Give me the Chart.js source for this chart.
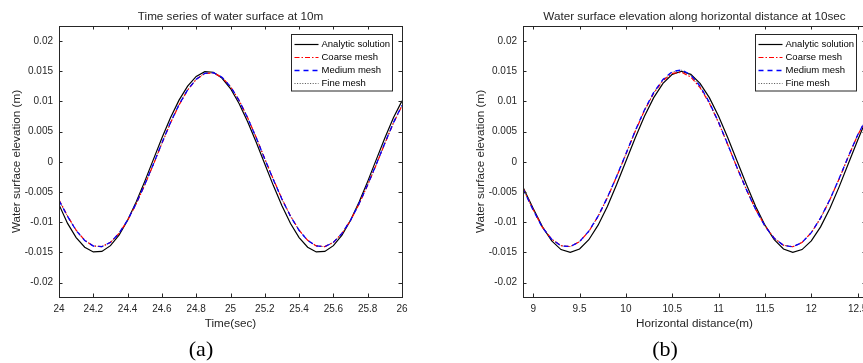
<!DOCTYPE html>
<html><head><meta charset="utf-8">
<script src="https://cdn.jsdelivr.net/npm/chart.js@4"></script>
<style>
html,body{margin:0;padding:0;background:#fff;overflow:hidden;width:863px;height:363px}
#wa{position:absolute;left:0;top:0;width:444px;height:363px}
#wb{position:absolute;left:464px;top:0;width:444px;height:363px}
</style></head><body>
<div id="wa"><canvas id="ca" width="444" height="363"></canvas></div>
<div id="wb"><canvas id="cb" width="444" height="363"></canvas></div>
<script>
// ---------- DATA ----------
const SERIES_LABELS = ['Analytic solution', 'Coarse mesh', 'Medium mesh', 'Fine mesh'];

const Y_TICKS = [-0.02, -0.015, -0.01, -0.005, 0, 0.005, 0.01, 0.015, 0.02];
const Y_TICK_LABELS = ['-0.02', '-0.015', '-0.01', '-0.005', '0', '0.005', '0.01', '0.015', '0.02'];

// (a) time series at 10 m
const TIME_A = [24.00, 24.05, 24.10, 24.15, 24.20, 24.25, 24.30, 24.35, 24.40, 24.45,
  24.50, 24.55, 24.60, 24.65, 24.70, 24.75, 24.80, 24.85, 24.90, 24.95,
  25.00, 25.05, 25.10, 25.15, 25.20, 25.25, 25.30, 25.35, 25.40, 25.45,
  25.50, 25.55, 25.60, 25.65, 25.70, 25.75, 25.80, 25.85, 25.90, 25.95, 26.00];
const ANALYTIC_A = [-0.0071, -0.0102, -0.01255, -0.01415, -0.01493, -0.01484, -0.01389, -0.01214, -0.00967, -0.00665,
  -0.00324, 0.00036, 0.00394, 0.00729, 0.01022, 0.01255, 0.01415, 0.01493, 0.01484, 0.01389,
  0.01214, 0.00967, 0.00665, 0.00324, -0.00036, -0.00394, -0.00729, -0.01022, -0.01255, -0.01415,
  -0.01493, -0.01484, -0.01389, -0.01214, -0.00967, -0.00665, -0.00324, 0.00036, 0.00394, 0.00729, 0.0101];
const COARSE_A = [-0.0063, -0.00899, -0.01133, -0.01301, -0.01393, -0.01405, -0.01335, -0.01187, -0.00971, -0.00697,
  -0.00383, -0.00048, 0.00305, 0.00643, 0.00943, 0.01189, 0.01365, 0.01462, 0.01474, 0.01401,
  0.01246, 0.01019, 0.00732, 0.00402, 0.00050, -0.00291, -0.00613, -0.00899, -0.01133, -0.01301,
  -0.01393, -0.01405, -0.01335, -0.01187, -0.00971, -0.00697, -0.00383, -0.00048, 0.00305, 0.00643, 0.00930];
const MEDIUM_A = [-0.0064, -0.00905, -0.01138, -0.01304, -0.01395, -0.01406, -0.01334, -0.01184, -0.00966, -0.00690,
  -0.00376, -0.00040, 0.00312, 0.00650, 0.00949, 0.01193, 0.01368, 0.01465, 0.01477, 0.01403,
  0.01246, 0.01017, 0.00728, 0.00397, 0.00044, -0.00297, -0.00619, -0.00904, -0.01137, -0.01303,
  -0.01394, -0.01406, -0.01334, -0.01185, -0.00968, -0.00692, -0.00377, -0.00041, 0.00311, 0.00649, 0.00935];
const FINE_A = [-0.0064, -0.00904, -0.01137, -0.01304, -0.01395, -0.01407, -0.01335, -0.01185, -0.00967, -0.00691,
  -0.00377, -0.00041, 0.00311, 0.00649, 0.00948, 0.01192, 0.01367, 0.01465, 0.01477, 0.01403,
  0.01247, 0.01018, 0.00729, 0.00398, 0.00045, -0.00296, -0.00618, -0.00903, -0.01137, -0.01303,
  -0.01395, -0.01406, -0.01335, -0.01186, -0.00969, -0.00693, -0.00378, -0.00042, 0.00310, 0.00648, 0.00934];
const X_TICKS_A = [24, 24.2, 24.4, 24.6, 24.8, 25, 25.2, 25.4, 25.6, 25.8, 26];
const X_TICK_LABELS_A = ['24', '24.2', '24.4', '24.6', '24.8', '25', '25.2', '25.4', '25.6', '25.8', '26'];

// (b) spatial profile at 10 s
const DIST_B = [8.89, 9.0, 9.1, 9.2, 9.3, 9.4, 9.5, 9.6, 9.7, 9.8, 9.9,
  10.0, 10.1, 10.2, 10.3, 10.4, 10.5, 10.6, 10.7, 10.8, 10.9,
  11.0, 11.1, 11.2, 11.3, 11.4, 11.5, 11.6, 11.7, 11.8, 11.9,
  12.0, 12.1, 12.2, 12.3, 12.4, 12.5, 12.59];
const ANALYTIC_B = [-0.0042, -0.00773, -0.01078, -0.01310, -0.01454, -0.01500, -0.01444, -0.01291, -0.01050, -0.00739, -0.00377,
  0.00010, 0.00396, 0.00756, 0.01064, 0.01300, 0.01449, 0.01500, 0.01449, 0.01300, 0.01064,
  0.00756, 0.00396, 0.00010, -0.00377, -0.00739, -0.01050, -0.01291, -0.01444, -0.01500, -0.01454,
  -0.01310, -0.01078, -0.00773, -0.00415, -0.00029, 0.00358, 0.00690];
const COARSE_B = [-0.0044, -0.0079, -0.01087, -0.01282, -0.01390, -0.01404, -0.01324, -0.01154, -0.00905, -0.00596, -0.00247,
  0.00125, 0.00504, 0.00849, 0.01136, 0.01346, 0.01465, 0.01485, 0.01405, 0.01230, 0.00972,
  0.00648, 0.00280, -0.00101, -0.00460, -0.00788, -0.01062, -0.01266, -0.01383, -0.01407, -0.01336,
  -0.01174, -0.00933, -0.00630, -0.00283, 0.00087, 0.00440, 0.00700];
const MEDIUM_B = [-0.0045, -0.0080, -0.01090, -0.01285, -0.01392, -0.01405, -0.01322, -0.01150, -0.00900, -0.00590, -0.00240,
  0.00132, 0.00512, 0.00860, 0.01150, 0.01365, 0.01495, 0.01525, 0.01440, 0.01255, 0.00985,
  0.00655, 0.00283, -0.00100, -0.00461, -0.00790, -0.01064, -0.01268, -0.01385, -0.01409, -0.01337,
  -0.01173, -0.00930, -0.00626, -0.00278, 0.00092, 0.00445, 0.00705];
const FINE_B = [-0.0045, -0.0080, -0.01089, -0.01284, -0.01391, -0.01405, -0.01323, -0.01151, -0.00902, -0.00592, -0.00242,
  0.00130, 0.00510, 0.00857, 0.01146, 0.01360, 0.01490, 0.01518, 0.01434, 0.01250, 0.00981,
  0.00652, 0.00282, -0.00101, -0.00461, -0.00789, -0.01063, -0.01267, -0.01384, -0.01408, -0.01336,
  -0.01173, -0.00931, -0.00628, -0.00280, 0.00090, 0.00443, 0.00703];
const X_TICKS_B = [9, 9.5, 10, 10.5, 11, 11.5, 12, 12.5];
const X_TICK_LABELS_B = ['9', '9.5', '10', '10.5', '11', '11.5', '12', '12.5'];

// ---------- STYLE ----------
const SANS = "'Liberation Sans', Arial, Helvetica, sans-serif";
const AX = '#262626';
const STYLES = [
  { color: 'rgb(0,0,0)', dash: [], width: 1.2, order: 4 },
  { color: 'rgb(255,0,0)', dash: [5, 2, 1.5, 2], width: 1.2, order: 2 },
  { color: 'rgb(0,0,255)', dash: [5, 4], width: 1.3, order: 1 },
  { color: 'rgb(80,80,80)', dash: [1, 1.6], width: 1, order: 3 }
];

const boxPlugin = {
  id: 'matlabBox',
  afterDraw(chart) {
    const { ctx, chartArea: a, scales } = chart;
    ctx.save();
    ctx.strokeStyle = AX;
    ctx.lineWidth = 1;
    ctx.setLineDash([]);
    const L = 3.5;
    ctx.beginPath();
    scales.x.ticks.forEach(t => {
      const p = Math.round(scales.x.getPixelForValue(t.value)) + 0.5;
      ctx.moveTo(p, a.bottom); ctx.lineTo(p, a.bottom - L);
      ctx.moveTo(p, a.top); ctx.lineTo(p, a.top + L);
    });
    scales.y.ticks.forEach(t => {
      const p = Math.round(scales.y.getPixelForValue(t.value)) + 0.5;
      ctx.moveTo(a.left, p); ctx.lineTo(a.left + L, p);
      ctx.moveTo(a.right, p); ctx.lineTo(a.right - L, p);
    });
    ctx.stroke();
    ctx.strokeRect(Math.round(a.left) + 0.5, Math.round(a.top) + 0.5, Math.round(a.width), Math.round(a.height));

    // legend box (inside axes, north-east)
    const x0 = Math.round(a.right) - 111 + 0.5, y0 = Math.round(a.top) + 8.5, w = 101, h = 56.5;
    ctx.fillStyle = '#ffffff';
    ctx.fillRect(x0, y0, w, h);
    ctx.strokeStyle = AX;
    ctx.lineWidth = 1;
    ctx.strokeRect(x0, y0, w, h);
    ctx.font = '9.5px ' + SANS;
    ctx.textBaseline = 'middle';
    ctx.textAlign = 'left';
    chart.data.datasets.forEach((ds, i) => {
      const st = STYLES[i];
      const yy = y0 + 10 + i * 13;
      ctx.beginPath();
      ctx.strokeStyle = st.color;
      ctx.lineWidth = st.width;
      ctx.setLineDash(st.dash);
      ctx.moveTo(x0 + 3, yy); ctx.lineTo(x0 + 27, yy);
      ctx.stroke();
      ctx.setLineDash([]);
      ctx.fillStyle = '#000000';
      ctx.fillText(ds.label, x0 + 30, yy);
    });
    ctx.restore();
  }
};

function makeChart(id, xs, series, xMin, xMax, xTicks, xTickLabels, titleText, xTitle, caption) {
  const datasets = series.map((ys, i) => ({
    label: SERIES_LABELS[i],
    data: xs.map((x, k) => ({ x: x, y: ys[k] })),
    borderColor: STYLES[i].color,
    backgroundColor: STYLES[i].color,
    borderDash: STYLES[i].dash,
    borderWidth: STYLES[i].width,
    order: STYLES[i].order,
    pointRadius: 0,
    tension: 0,
    fill: false
  }));
  return new Chart(document.getElementById(id), {
    type: 'line',
    data: { datasets },
    plugins: [boxPlugin],
    options: {
      responsive: false,
      animation: false,
      devicePixelRatio: 1,
      events: [],
      layout: { padding: { left: 0, right: 42, top: 0, bottom: 0 } },
      plugins: {
        legend: { display: false },
        tooltip: { enabled: false },
        title: {
          display: true, text: titleText, fullSize: false, color: AX,
          font: { family: SANS, size: 11.7, weight: 'normal' },
          padding: { top: 9.6, bottom: 2.4 }
        },
        subtitle: {
          display: true, text: caption, position: 'bottom', color: '#000',
          font: { family: "'Liberation Serif', 'Times New Roman', serif", size: 22, weight: 'normal' },
          padding: { top: 0, bottom: 0 }
        }
      },
      scales: {
        x: {
          type: 'linear', min: xMin, max: xMax,
          grid: { display: false, drawTicks: false },
          border: { display: false },
          afterBuildTicks: s => { s.ticks = xTicks.map(v => ({ value: v })); },
          afterFit: s => { s.height = 39.6; },
          ticks: {
            padding: 6, color: AX, maxRotation: 0, autoSkip: false,
            font: { family: SANS, size: 10 },
            callback: v => { const i = xTicks.findIndex(t => Math.abs(t - v) < 1e-9); return i >= 0 ? xTickLabels[i] : ''; }
          },
          title: { display: true, text: xTitle, color: AX, font: { family: SANS, size: 11.7 }, padding: { top: 0, bottom: 5.6 } }
        },
        y: {
          type: 'linear', min: -0.0224, max: 0.0225,
          grid: { display: false, drawTicks: false },
          border: { display: false },
          afterBuildTicks: s => { s.ticks = Y_TICKS.map(v => ({ value: v })); },
          afterFit: s => { s.width = 59; },
          ticks: {
            padding: 6, color: AX, autoSkip: false,
            font: { family: SANS, size: 10 },
            callback: v => { const i = Y_TICKS.findIndex(t => Math.abs(t - v) < 1e-9); return i >= 0 ? Y_TICK_LABELS[i] : ''; }
          },
          title: { display: true, text: 'Water surface elevation (m)', color: AX, font: { family: SANS, size: 11.7 }, padding: { top: 9.6, bottom: 0 } }
        }
      }
    }
  });
}

makeChart('ca', TIME_A, [ANALYTIC_A, COARSE_A, MEDIUM_A, FINE_A], 24, 26, X_TICKS_A, X_TICK_LABELS_A,
  'Time series of water surface at 10m', 'Time(sec)', '(a)');
makeChart('cb', DIST_B, [ANALYTIC_B, COARSE_B, MEDIUM_B, FINE_B], 8.89, 12.59, X_TICKS_B, X_TICK_LABELS_B,
  'Water surface elevation along horizontal distance at 10sec', 'Horizontal distance(m)', '(b)');
</script>
</body></html>
